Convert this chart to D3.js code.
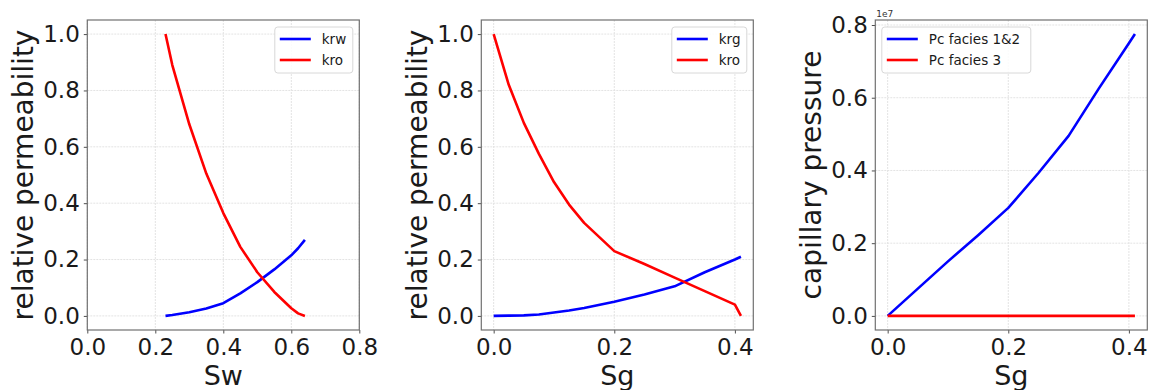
<!DOCTYPE html>
<html lang="en">
  <head>
    <meta charset="utf-8">
    <title>relative permeability / capillary pressure</title>
    <script src="https://cdn.jsdelivr.net/npm/d3@7"></script>
    <style>
html, body {
  margin: 0;
  padding: 0;
  background: #fff;
}
svg {
  display: block;
  font-family: "DejaVu Sans", sans-serif;
}
.tick line { stroke: #222; stroke-width: 0.8px; }
.tick text { fill: #1a1a1a; }
.grid line { stroke: #e3e3e3; stroke-width: 1px; stroke-dasharray: 2,1; }
    </style>
  </head>
  <body>
    <div id="chart"></div>
    <script>

// water / oil table
var swVals   = [0.23, 0.25, 0.30, 0.35, 0.40, 0.45, 0.50, 0.55, 0.60, 0.62, 0.64];
var krwVals  = [0.0, 0.003, 0.013, 0.026, 0.045, 0.08, 0.12, 0.165, 0.215, 0.24, 0.27];
var krowVals = [1.0, 0.89, 0.68, 0.505, 0.365, 0.245, 0.155, 0.085, 0.027, 0.009, 0.0];

// gas / oil table
var sgVals   = [0.0, 0.025, 0.05, 0.075, 0.10, 0.125, 0.15, 0.20, 0.25, 0.30, 0.35, 0.40, 0.41];
var krgVals  = [0.0, 0.001, 0.002, 0.005, 0.012, 0.019, 0.028, 0.05, 0.076, 0.105, 0.155, 0.20, 0.21];
var krogVals = [1.0, 0.82, 0.685, 0.575, 0.475, 0.395, 0.33, 0.23, 0.184, 0.136, 0.088, 0.04, 0.0];

// capillary pressure (Pa)
var sgPcVals = [0.0, 0.05, 0.10, 0.15, 0.20, 0.25, 0.30, 0.35, 0.40, 0.41];
var pc12Vals = [0, 0.75e6, 1.5e6, 2.22e6, 2.97e6, 3.93e6, 4.95e6, 6.25e6, 7.5e6, 7.75e6];
var pc3Vals  = [0, 0, 0, 0, 0, 0, 0, 0, 0, 0];

var swTicks = [0.0, 0.2, 0.4, 0.6, 0.8];
var sgTicks = [0.0, 0.2, 0.4];
var krTicks = [0.0, 0.2, 0.4, 0.6, 0.8, 1.0];
var pcTicks = [0, 0.2e7, 0.4e7, 0.6e7, 0.8e7];

var W = 1151, H = 390;
var svg = d3.select("#chart").append("svg")
    .attr("width", W)
    .attr("height", H);

// mit 5% Rand wie matplotlib
function pad(lo, hi) {
  var m = (hi - lo) * 0.05;
  return [lo - m, hi + m];
}

var panels = [
  {
    left: 87.3, xDomain: [0, 0.8], yDomain: pad(0, 1.0),
    xTicks: swTicks, yTicks: krTicks, xFmt: d3.format(".1f"), yFmt: d3.format(".1f"),
    xLabel: "Sw", yLabel: "relative permeability",
    series: [
      { name: "krw", x: swVals, y: krwVals, color: "#0000ff" },
      { name: "kro", x: swVals, y: krowVals, color: "#ff0000" }
    ],
    legend: { side: "right", width: 78 }
  },
  {
    left: 481.3, xDomain: pad(0, 0.41), yDomain: pad(0, 1.0),
    xTicks: sgTicks, yTicks: krTicks, xFmt: d3.format(".1f"), yFmt: d3.format(".1f"),
    xLabel: "Sg", yLabel: "relative permeability",
    series: [
      { name: "krg", x: sgVals, y: krgVals, color: "#0000ff" },
      { name: "kro", x: sgVals, y: krogVals, color: "#ff0000" }
    ],
    legend: { side: "right", width: 75 }
  },
  {
    left: 875.3, xDomain: pad(0, 0.41), yDomain: pad(0, 7.75e6),
    xTicks: sgTicks, yTicks: pcTicks, xFmt: d3.format(".1f"),
    yFmt: function(d) { return (d / 1e7).toFixed(1); },
    xLabel: "Sg", yLabel: "capillary pressure", offsetText: "1e7",
    series: [
      { name: "Pc facies 1&2", x: sgPcVals, y: pc12Vals, color: "#0000ff" },
      { name: "Pc facies 3", x: sgPcVals, y: pc3Vals, color: "#ff0000" }
    ],
    legend: { side: "left", width: 149 }
  }
];

var plotTop = 20, plotBottom = 330, plotW = 272;

panels.forEach(function(p) {
  var x = d3.scaleLinear().domain(p.xDomain).range([p.left, p.left + plotW]);
  var y = d3.scaleLinear().domain(p.yDomain).range([plotBottom, plotTop]);
  var g = svg.append("g");

  // Gitter
  var grid = g.append("g").attr("class", "grid");
  grid.selectAll("line.gx").data(p.xTicks).enter().append("line")
      .attr("class", "gx")
      .attr("x1", function(d) { return x(d); }).attr("x2", function(d) { return x(d); })
      .attr("y1", plotTop).attr("y2", plotBottom);
  grid.selectAll("line.gy").data(p.yTicks).enter().append("line")
      .attr("class", "gy")
      .attr("x1", p.left).attr("x2", p.left + plotW)
      .attr("y1", function(d) { return y(d); }).attr("y2", function(d) { return y(d); });

  // Achsen
  var xAxis = g.append("g")
      .attr("transform", "translate(0," + plotBottom + ")")
      .call(d3.axisBottom(x).tickValues(p.xTicks).tickFormat(p.xFmt).tickSize(3.5).tickPadding(5));
  var yAxis = g.append("g")
      .attr("transform", "translate(" + p.left + ",0)")
      .call(d3.axisLeft(y).tickValues(p.yTicks).tickFormat(p.yFmt).tickSize(3.5).tickPadding(4));
  [xAxis, yAxis].forEach(function(a) {
    a.select(".domain").remove();
    a.selectAll("text").style("font-size", "23px").style("font-family", "DejaVu Sans");
  });

  // Kurven
  var line = d3.line()
      .x(function(d) { return x(d[0]); })
      .y(function(d) { return y(d[1]); });
  p.series.forEach(function(s) {
    g.append("path")
        .datum(d3.zip(s.x, s.y))
        .attr("d", line)
        .attr("fill", "none")
        .attr("stroke", s.color)
        .attr("stroke-width", 2.6)
        .attr("stroke-linejoin", "round");
  });

  // Rahmen
  g.append("rect")
      .attr("x", p.left).attr("y", plotTop)
      .attr("width", plotW).attr("height", plotBottom - plotTop)
      .attr("fill", "none")
      .attr("stroke", "#707070")
      .attr("stroke-width", 1.2);

  // Beschriftung
  g.append("text")
      .attr("x", p.left + plotW / 2)
      .attr("y", 385)
      .attr("text-anchor", "middle")
      .style("font-size", "27px")
      .style("fill", "#1a1a1a")
      .text(p.xLabel);
  g.append("text")
      .attr("transform", "translate(" + (p.left - 54) + "," + ((plotTop + plotBottom) / 2) + ") rotate(-90)")
      .attr("text-anchor", "middle")
      .style("font-size", "28px")
      .style("fill", "#1a1a1a")
      .text(p.yLabel);
  if (p.offsetText) {
    g.append("text")
        .attr("x", p.left + 1)
        .attr("y", 17)
        .style("font-size", "9px")
        .style("fill", "#333")
        .text(p.offsetText);
  }

  // Legende
  var lw = p.legend.width, lh = 46;
  var lx = p.legend.side === "right" ? p.left + plotW - 6.5 - lw : p.left + 6.5;
  var leg = g.append("g").attr("transform", "translate(" + lx + "," + (plotTop + 7) + ")");
  leg.append("rect")
      .attr("width", lw).attr("height", lh)
      .attr("rx", 3)
      .attr("fill", "#fff").attr("fill-opacity", 0.85)
      .attr("stroke", "#d8d8d8");
  p.series.forEach(function(s, i) {
    var ly = 12 + i * 21;
    leg.append("line")
        .attr("x1", 5).attr("x2", 36)
        .attr("y1", ly).attr("y2", ly)
        .attr("stroke", s.color).attr("stroke-width", 2.6);
    leg.append("text")
        .attr("x", 47).attr("y", ly)
        .attr("dy", "0.36em")
        .style("font-size", "13.5px")
        .style("fill", "#1a1a1a")
        .text(s.name);
  });
});

    </script>
  </body>
</html>
